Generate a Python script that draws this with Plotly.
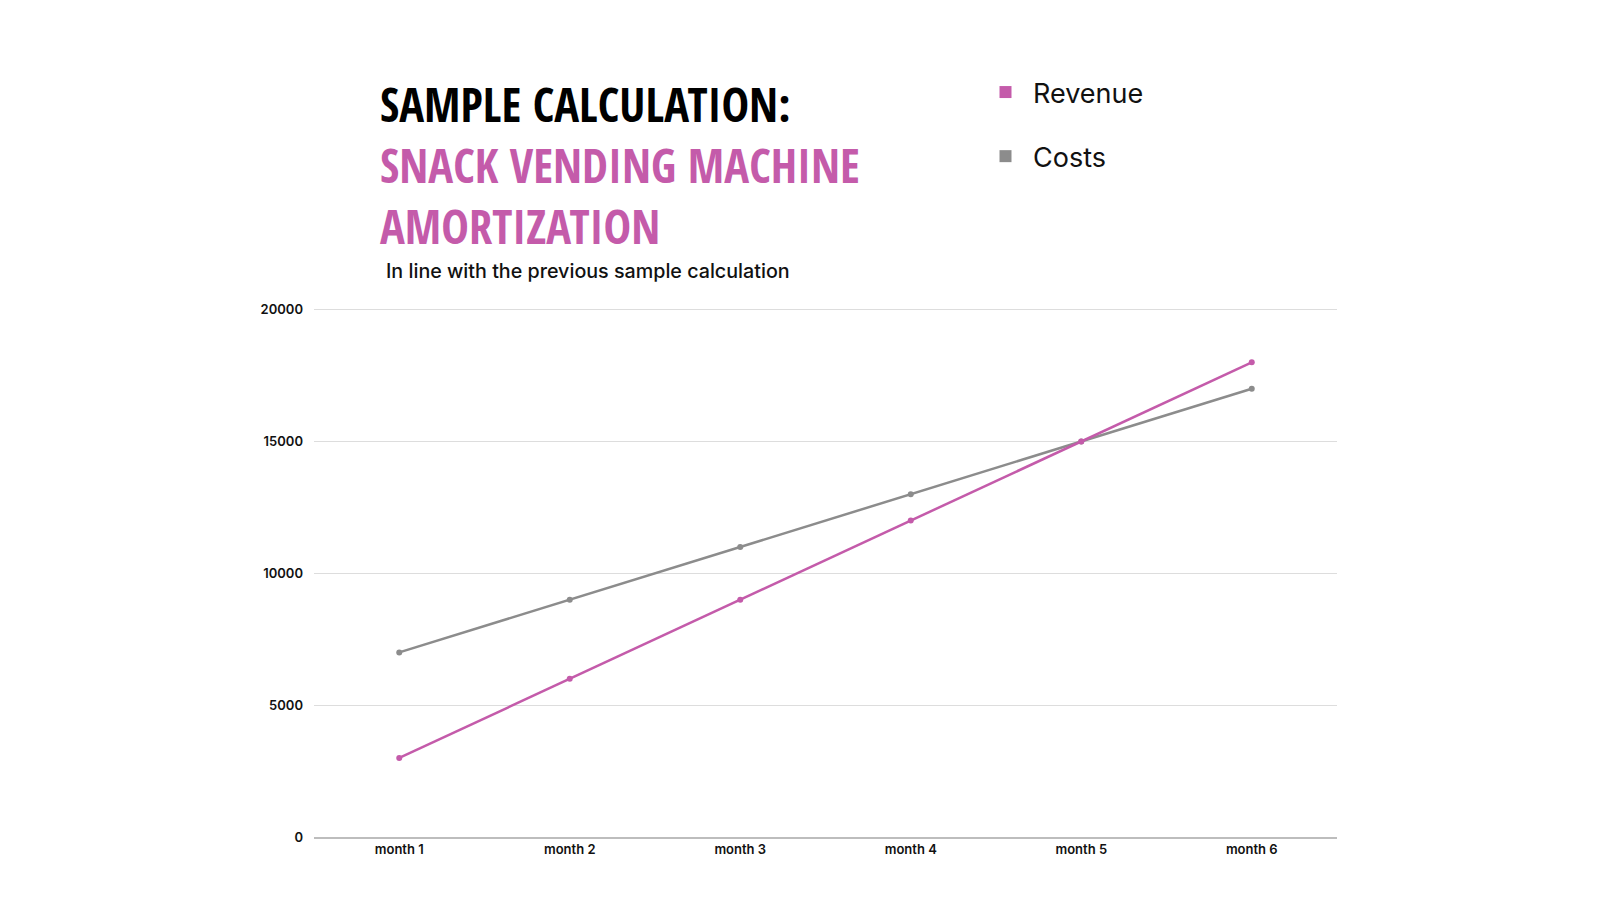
import plotly.graph_objects as go

months = ["month 1", "month 2", "month 3", "month 4", "month 5", "month 6"]
revenue = [3000, 6000, 9000, 12000, 15000, 18000]
costs = [7000, 9000, 11000, 13000, 15000, 17000]
y_ticks = [0, 5000, 10000, 15000, 20000]

PINK = "#C45BAA"
GRAY = "#8C8C8C"
W, H = 1600, 900
L, R, T, B = 306, 271, 299, 71


def px(x):
    return (x - L) / (W - L - R)


def py(y):
    return (H - B - y) / (H - T - B)


fig = go.Figure()
fig.add_trace(go.Scatter(x=months, y=costs, mode="lines+markers", name="Costs",
                         line=dict(color=GRAY, width=2.5), marker=dict(size=6, color=GRAY),
                         showlegend=False))
fig.add_trace(go.Scatter(x=months, y=revenue, mode="lines+markers", name="Revenue",
                         line=dict(color=PINK, width=2.5), marker=dict(size=6, color=PINK),
                         showlegend=False))
fig.add_trace(go.Scatter(x=[None], y=[None], mode="markers", name="Revenue",
                         marker=dict(symbol="square", size=15, color=PINK), legendgroup="a"))
fig.add_trace(go.Scatter(x=[None], y=[None], mode="markers", name="Costs",
                         marker=dict(symbol="square", size=15, color=GRAY), legendgroup="b"))

TF = "Open Sans Condensed, Roboto Condensed, DejaVu Sans Condensed, sans-serif"
BF = "Inter, Open Sans, sans-serif"
anns = [
    dict(text="SAMPLE CALCULATION:", x=px(370), y=py(96), color="#000000"),
    dict(text="SNACK VENDING MACHINE", x=px(370), y=py(157), color=PINK),
    dict(text="AMORTIZATION", x=px(370), y=py(218), color=PINK),
]
for a in anns:
    fig.add_annotation(text=a["text"], x=a["x"], y=a["y"], xref="paper", yref="paper",
                       xanchor="left", yanchor="middle", showarrow=False,
                       font=dict(family=TF, size=46.5, color=a["color"], weight=700))

fig.add_annotation(text="In line with the previous sample calculation", x=px(376), y=py(263),
                   xref="paper", yref="paper", xanchor="left", yanchor="middle", showarrow=False,
                   font=dict(family=BF, size=19.7, color="#111111", weight=500))

fig.update_layout(
    width=W, height=H,
    margin=dict(l=L, r=R, t=T, b=B),
    paper_bgcolor="white", plot_bgcolor="white",
    font=dict(family=BF, color="#111111"),
    legend=dict(x=px(970), y=py(60), xanchor="left", yanchor="top",
                font=dict(size=27, family=BF, color="#111111"),
                traceorder="grouped", tracegroupgap=26, itemsizing="constant",
                itemwidth=45, bgcolor="rgba(0,0,0,0)"),
    xaxis=dict(type="category", range=[-0.5, 5.5], showgrid=False, showline=True,
               linecolor="#BDBDBD", linewidth=1.5, ticks="", fixedrange=True,
               tickfont=dict(size=13, color="#111111", family=BF, weight=600)),
    yaxis=dict(range=[0, 20100], tickvals=y_ticks, ticktext=[str(v) for v in y_ticks],
               showgrid=True, gridcolor="#DDDDDD", gridwidth=1, zeroline=False,
               showline=False, ticks="", ticklabelstandoff=10,
               tickfont=dict(size=13, color="#111111", family=BF, weight=600)),
)

fig.write_html("out.html")
